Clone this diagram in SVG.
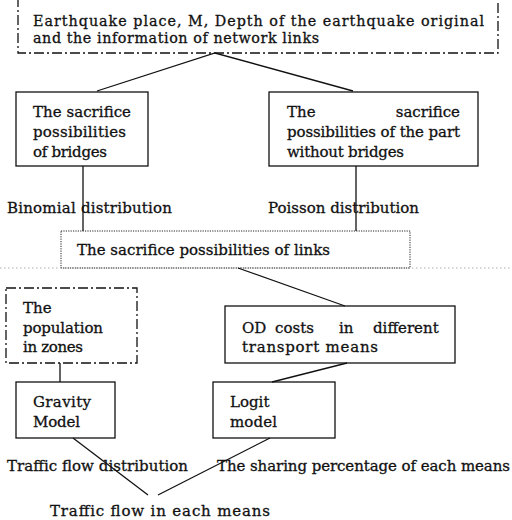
<svg xmlns="http://www.w3.org/2000/svg" width="512" height="520" viewBox="0 0 512 520">
<style>
text{font-family:"DejaVu Serif","Liberation Serif",serif;font-size:15px;fill:#111;stroke:#111;stroke-width:0.3;}
.tt{font-size:14.3px;}
.box{fill:none;stroke:#111;stroke-width:1.3;}
.dd{fill:none;stroke:#111;stroke-width:1.3;stroke-dasharray:10 3 2 3;}
.dot{fill:none;stroke:#222;stroke-width:1;stroke-dasharray:1.2 1.2;}
.ln{stroke:#111;stroke-width:1.3;fill:none;}
</style>
<rect width="512" height="520" fill="#fff"/>
<line x1="0" y1="268" x2="512" y2="268" stroke="#999" stroke-width="0.8" stroke-dasharray="1.5 2.5"/>
<g id="connectors">
<polyline class="ln" points="97,91 215,53 353,91"/>
<line class="ln" x1="83" y1="166" x2="83" y2="231"/>
<line class="ln" x1="356" y1="166" x2="356" y2="231"/>
<line class="ln" x1="238" y1="268" x2="345" y2="306"/>
<line class="ln" x1="60" y1="363" x2="60" y2="382"/>
<line class="ln" x1="347" y1="363" x2="272" y2="382"/>
<line class="ln" x1="73" y1="438" x2="148" y2="495"/>
<line class="ln" x1="270" y1="438" x2="158" y2="495"/>
<text x="7" y="213" textLength="165" lengthAdjust="spacing">Binomial distribution</text>
<text x="268" y="213" textLength="151" lengthAdjust="spacing">Poisson distribution</text>
<text x="7" y="471" textLength="181" lengthAdjust="spacing">Traffic flow distribution</text>
<text x="217" y="471" textLength="293" lengthAdjust="spacing">The sharing percentage of each means</text>
</g>
<g id="n-earthquake">
<rect class="dd" x="18" y="-3" width="480" height="56"/>
<text class="tt" x="33" y="26" textLength="451" lengthAdjust="spacing">Earthquake place, M, Depth of the earthquake original</text>
<text class="tt" x="33" y="43" textLength="286" lengthAdjust="spacing">and the information of network links</text>
</g>
<g id="n-bridges">
<rect class="box" x="16" y="92" width="132" height="74"/>
<text x="33" y="117" textLength="98" lengthAdjust="spacing">The sacrifice</text>
<text x="33" y="137" textLength="93" lengthAdjust="spacing">possibilities</text>
<text x="33" y="157" textLength="74" lengthAdjust="spacing">of bridges</text>
</g>
<g id="n-nobridges">
<rect class="box" x="269" y="92" width="209" height="74"/>
<text x="287" y="117">The</text>
<text x="460" y="117" text-anchor="end">sacrifice</text>
<text x="287" y="137" textLength="173" lengthAdjust="spacing">possibilities of the part</text>
<text x="287" y="157" textLength="117" lengthAdjust="spacing">without bridges</text>
</g>
<g id="n-links">
<rect class="dot" x="61" y="231" width="349" height="37"/>
<text x="77" y="255" textLength="253" lengthAdjust="spacing">The sacrifice possibilities of links</text>
</g>
<g id="n-population">
<rect class="dd" x="6" y="288" width="131" height="75"/>
<text x="23" y="313">The</text>
<text x="23" y="333" textLength="80" lengthAdjust="spacing">population</text>
<text x="23" y="352" textLength="60" lengthAdjust="spacing">in zones</text>
</g>
<g id="n-od">
<rect class="box" x="225" y="306" width="230" height="57"/>
<text y="333"><tspan x="242">OD</tspan><tspan x="275">costs</tspan><tspan x="339">in</tspan><tspan x="373">different</tspan></text>
<text x="242" y="352" textLength="136" lengthAdjust="spacing">transport means</text>
</g>
<g id="n-gravity">
<rect class="box" x="16" y="382" width="99" height="56"/>
<text x="33" y="407" textLength="58" lengthAdjust="spacing">Gravity</text>
<text x="33" y="427" textLength="47" lengthAdjust="spacing">Model</text>
</g>
<g id="n-logit">
<rect class="box" x="213" y="382" width="122" height="56"/>
<text x="230" y="407">Logit</text>
<text x="230" y="427" textLength="47" lengthAdjust="spacing">model</text>
</g>
<g id="n-flow">
<text x="50" y="516" textLength="220" lengthAdjust="spacing">Traffic flow in each means</text>
</g>
</svg>
